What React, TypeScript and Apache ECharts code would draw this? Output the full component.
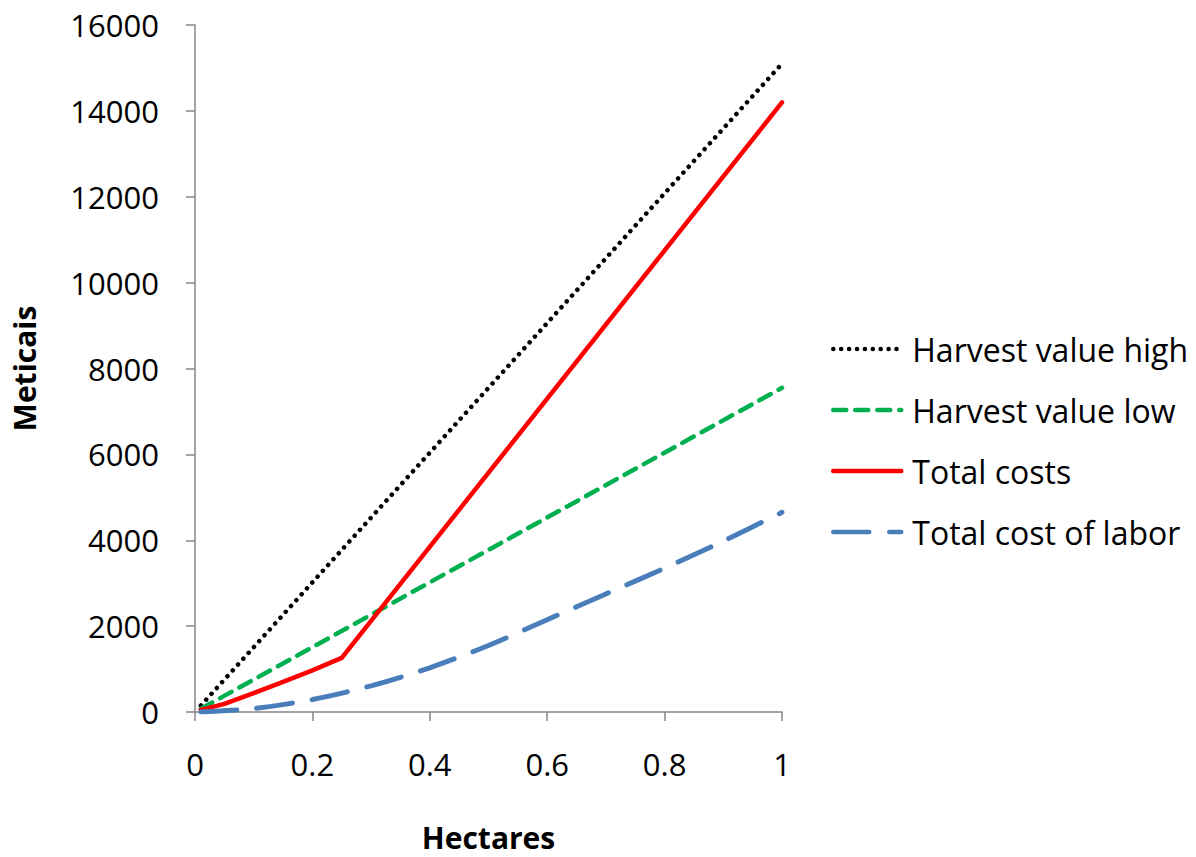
import React, { useEffect, useRef } from "react";
import * as echarts from "echarts";

const seriesNames = ["Harvest value high", "Harvest value low", "Total costs", "Total cost of labor"];
const harvestHigh: [number, number][] = [[0.01, 150], [1, 15100]];
const harvestLow: [number, number][] = [[0.01, 75], [1, 7550]];
const totalCosts: [number, number][] = [[0.01, 50], [0.05, 190], [0.1, 440], [0.15, 700], [0.2, 970], [0.25, 1260], [1, 14200]];
const laborCost: [number, number][] = [[0.01, 0], [0.1, 80], [0.2, 290], [0.3, 610], [0.4, 1030], [0.5, 1550], [0.6, 2150], [0.7, 2750], [0.8, 3350], [0.9, 3980], [1, 4650]];
const xTicks = [0, 0.2, 0.4, 0.6, 0.8, 1];
const yTicks = [0, 2000, 4000, 6000, 8000, 10000, 12000, 14000, 16000];

const FONT = "Open Sans";

export default function App() {
  const ref = useRef<HTMLDivElement>(null);
  useEffect(() => {
    if (!ref.current) return;
    const chart = echarts.init(ref.current, null, { renderer: "svg" });
    const axisLine = { show: true, lineStyle: { color: "#868686", width: 1.5 } };
    chart.setOption({
      animation: false,
      backgroundColor: "#fff",
      textStyle: { fontFamily: FONT },
      grid: { left: 195, right: 414, top: 25, bottom: 142 },
      legend: {
        orient: "vertical",
        left: 826,
        top: 328,
        itemWidth: 68,
        itemHeight: 20,
        itemGap: 29,
        itemStyle: { opacity: 0 },
        lineStyle: { width: 4.5 },
        textStyle: { fontSize: 32, fontFamily: FONT, color: "#000", padding: [0, 0, 0, 6] },
        data: seriesNames,
      },
      xAxis: {
        type: "value",
        min: xTicks[0],
        max: xTicks[xTicks.length - 1],
        interval: 0.2,
        name: "Hectares",
        nameLocation: "middle",
        nameGap: 110,
        nameTextStyle: { fontSize: 30, fontWeight: "bold", color: "#000", fontFamily: FONT },
        axisLine,
        axisTick: { show: true, length: 9, inside: false, lineStyle: { color: "#868686", width: 1.5 } },
        axisLabel: { fontSize: 31, color: "#000", margin: 36, fontFamily: FONT, formatter: (v: number) => String(+v.toFixed(1)) },
        splitLine: { show: false },
      },
      yAxis: {
        type: "value",
        min: yTicks[0],
        max: yTicks[yTicks.length - 1],
        interval: 2000,
        name: "Meticais",
        nameLocation: "middle",
        nameGap: 156,
        nameTextStyle: { fontSize: 30, fontWeight: "bold", color: "#000", fontFamily: FONT },
        axisLine,
        axisTick: { show: true, length: 9, lineStyle: { color: "#868686", width: 1.5 } },
        axisLabel: { fontSize: 31, color: "#000", margin: 36, fontFamily: FONT, formatter: (v: number) => String(v) },
        splitLine: { show: false },
      },
      series: [
        {
          name: seriesNames[0],
          type: "line",
          data: harvestHigh,
          symbol: "none",
          lineStyle: { color: "#000", width: 4.5, type: [0.1, 7.8], cap: "round" },
          itemStyle: { color: "#000" },
        },
        {
          name: seriesNames[1],
          type: "line",
          data: harvestLow,
          symbol: "none",
          lineStyle: { color: "#00b050", width: 4.5, type: [13, 9], cap: "round" },
          itemStyle: { color: "#00b050" },
        },
        {
          name: seriesNames[2],
          type: "line",
          data: totalCosts,
          symbol: "none",
          lineStyle: { color: "#ff0000", width: 4.5, type: "solid", cap: "round", join: "round" },
          itemStyle: { color: "#ff0000" },
        },
        {
          name: seriesNames[3],
          type: "line",
          data: laborCost,
          symbol: "none",
          smooth: 0.3,
          lineStyle: { color: "#4a7ebb", width: 5, type: [36, 20], cap: "round" },
          itemStyle: { color: "#4a7ebb" },
        },
      ],
    });
    return () => chart.dispose();
  }, []);
  return <div ref={ref} style={{ width: 1196, height: 857, margin: -8 }} />;
}
